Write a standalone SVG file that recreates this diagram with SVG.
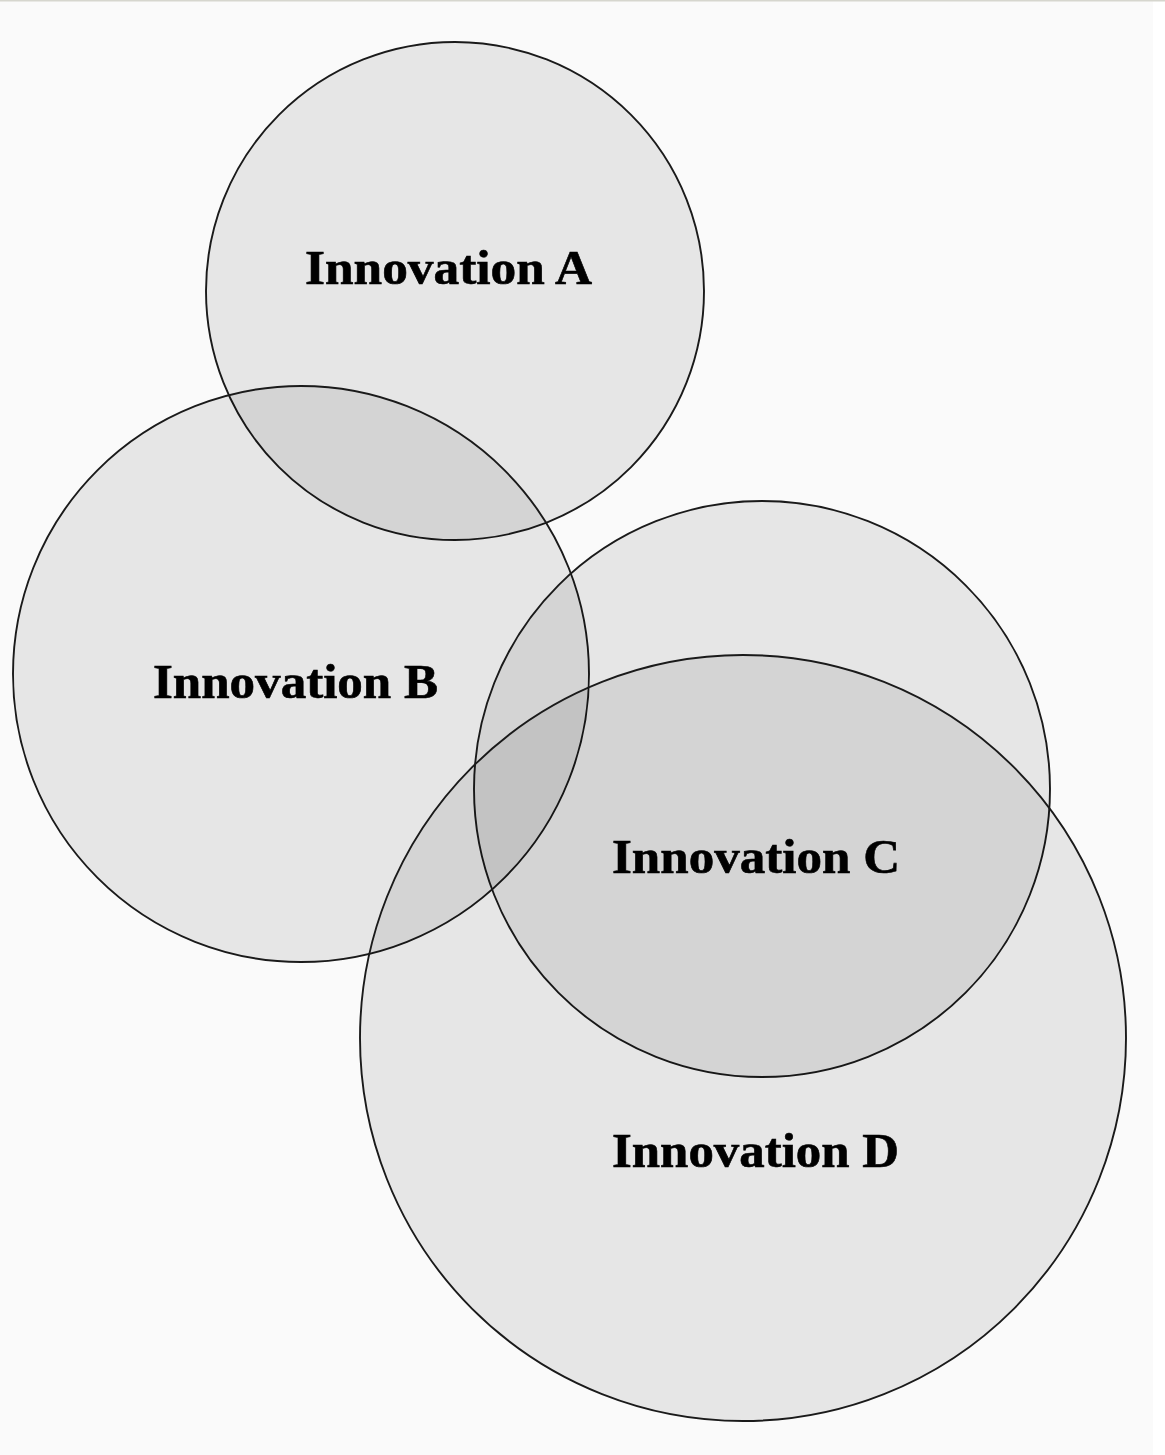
<svg xmlns="http://www.w3.org/2000/svg" width="1165" height="1455" viewBox="0 0 1165 1455">
<style>
.c{fill:#000;fill-opacity:0.08;stroke:#1a1a1a;stroke-width:1.9}
.t{font-family:"Liberation Serif","Times New Roman",serif;font-weight:bold;font-size:48px;fill:#000;stroke:#000;stroke-width:0.6}
</style>
<rect x="0" y="0" width="1165" height="1455" fill="#ffffff"/>
<rect x="0" y="0" width="1153" height="1455" fill="#fafafa"/>
<line x1="0" y1="0.7" x2="1165" y2="0.7" stroke="#d6d6ce" stroke-width="1.5"/>
<g id="innovation-a"><circle class="c" cx="455" cy="291" r="249"/></g>
<g id="innovation-b"><circle class="c" cx="301" cy="674" r="288"/></g>
<g id="innovation-c"><circle class="c" cx="762" cy="789" r="288"/></g>
<g id="innovation-d"><circle class="c" cx="743" cy="1038" r="383"/></g>
<g id="labels">
<text class="t" x="305" y="284" textLength="287" lengthAdjust="spacingAndGlyphs">Innovation A</text>
<text class="t" x="153" y="698" textLength="285" lengthAdjust="spacingAndGlyphs">Innovation B</text>
<text class="t" x="612" y="873" textLength="288" lengthAdjust="spacingAndGlyphs">Innovation C</text>
<text class="t" x="612" y="1167" textLength="287" lengthAdjust="spacingAndGlyphs">Innovation D</text>
</g>
<g id="connectors"/>
</svg>
